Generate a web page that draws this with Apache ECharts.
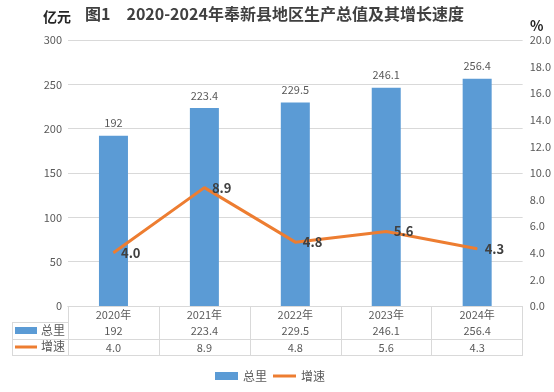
<!DOCTYPE html>
<html><head><meta charset="utf-8">
<script src="https://cdn.jsdelivr.net/npm/echarts@6/dist/echarts.min.js"></script>
<style>html,body{margin:0;padding:0;background:#fff}#c{width:554px;height:392px}</style>
</head><body><div id="c"></div>
<script>
var categories = ['2020年','2021年','2022年','2023年','2024年'];
var totals = [192, 223.4, 229.5, 246.1, 256.4];
var rates = [4.0, 8.9, 4.8, 5.6, 4.3];
var seriesNames = ['总里','增速'];
var titleText = '图1　2020-2024年奉新县地区生产总值及其增长速度';

var FONT = '"Noto Sans CJK SC", "Noto Sans", sans-serif';
var GRAY = '#595959';
var LINEC = '#D9D9D9';
var BLUE = '#5B9BD5';
var ORANGE = '#ED7D31';

var chart = echarts.init(document.getElementById('c'));
function tableAxis(offset, fmt, showLabel) {
  return {
    type: 'category', data: categories, gridIndex: 0, position: 'bottom', offset: offset,
    axisLine: {show: true, lineStyle: {color: LINEC, width: 1}},
    axisTick: {show: false},
    axisLabel: {show: showLabel, margin: 3, fontSize: 11, color: GRAY, fontFamily: FONT, formatter: fmt},
    splitLine: {show: false}
  };
}
var option = {
  backgroundColor: '#fff',
  textStyle: {fontFamily: FONT},
  animation: false,
  grid: {left: 68, right: 31, top: 40, bottom: 86},
  xAxis: [
    {
      type: 'category', data: categories, position: 'bottom',
      axisLine: {show: true, lineStyle: {color: LINEC}},
      axisTick: {show: true, length: 49, lineStyle: {color: LINEC}},
      axisLabel: {margin: 3, fontSize: 11, color: GRAY, fontFamily: FONT}
    },
    tableAxis(16, function (v, i) { return String(totals[i]); }, true),
    tableAxis(33, function (v, i) { return rates[i].toFixed(1); }, true),
    tableAxis(49, function () { return ''; }, false)
  ],
  yAxis: [
    {
      type: 'value', min: 0, max: 300, interval: 50,
      axisLine: {show: false}, axisTick: {show: false},
      axisLabel: {fontSize: 11, color: GRAY, margin: 6, fontFamily: FONT},
      splitLine: {lineStyle: {color: LINEC}}
    },
    {
      type: 'value', min: 0, max: 20, interval: 2, position: 'right',
      axisLine: {show: false}, axisTick: {show: false},
      axisLabel: {fontSize: 11, color: GRAY, margin: 7, fontFamily: FONT, formatter: function (v) { return v.toFixed(1); }},
      splitLine: {show: false}
    }
  ],
  legend: {
    bottom: 5, left: 210, itemGap: 6, itemWidth: 23, itemHeight: 8, symbolKeepAspect: true,
    textStyle: {fontSize: 12, color: GRAY, fontFamily: FONT},
    data: [
      {name: seriesNames[0], icon: 'rect'},
      {name: seriesNames[1], icon: 'path://M0,0h23v3h-23z'}
    ]
  },
  series: [
    {
      name: seriesNames[0], type: 'bar', data: totals, barWidth: 29,
      itemStyle: {color: BLUE},
      label: {show: true, position: 'top', distance: 7, fontSize: 11, color: GRAY, fontFamily: FONT}
    },
    {
      name: seriesNames[1], type: 'line', yAxisIndex: 1, data: rates,
      symbol: 'circle', symbolSize: 1, showSymbol: true,
      lineStyle: {color: ORANGE, width: 3}, itemStyle: {color: ORANGE},
      label: {show: true, position: 'right', distance: 7, fontSize: 13, fontWeight: 'bold', color: '#404040', fontFamily: FONT,
        formatter: function (p) { return p.value.toFixed(1); }}
    }
  ],
  graphic: [
    {type: 'text', left: 85, top: 6, style: {text: titleText, fontSize: 16, fontWeight: 'bold', fill: '#404040', fontFamily: FONT}},
    {type: 'text', left: 43, top: 10, style: {text: '亿元', fontSize: 14, fontWeight: 'bold', fill: '#262626', fontFamily: FONT}},
    {type: 'text', left: 530, top: 19, style: {text: '%', fontSize: 14, fontWeight: 'bold', fill: '#262626', fontFamily: FONT}},
    {type: 'line', shape: {x1: 12, y1: 322.5, x2: 68, y2: 322.5}, style: {stroke: LINEC, lineWidth: 1}},
    {type: 'line', shape: {x1: 12, y1: 339.5, x2: 68, y2: 339.5}, style: {stroke: LINEC, lineWidth: 1}},
    {type: 'line', shape: {x1: 12, y1: 355.5, x2: 68, y2: 355.5}, style: {stroke: LINEC, lineWidth: 1}},
    {type: 'line', shape: {x1: 12.5, y1: 322, x2: 12.5, y2: 355}, style: {stroke: LINEC, lineWidth: 1}},
    {type: 'rect', shape: {x: 15, y: 327, width: 22, height: 7}, style: {fill: BLUE}},
    {type: 'text', left: 41, top: 324, style: {text: seriesNames[0], fontSize: 12, fill: GRAY, fontFamily: FONT}},
    {type: 'line', shape: {x1: 15, y1: 347, x2: 37, y2: 347}, style: {stroke: ORANGE, lineWidth: 3}},
    {type: 'text', left: 41, top: 340, style: {text: seriesNames[1], fontSize: 12, fill: GRAY, fontFamily: FONT}}
  ]
};
chart.setOption(option);
</script>
</body></html>
